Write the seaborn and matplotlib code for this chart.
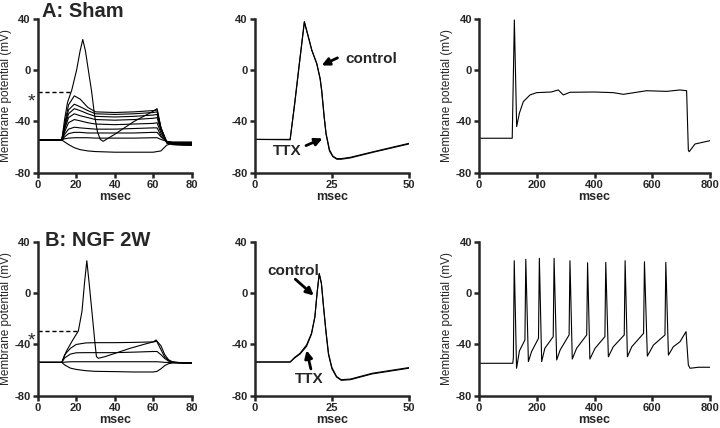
import matplotlib
matplotlib.use("Agg")
import matplotlib.pyplot as plt
import seaborn as sns

sns.set_style("ticks")
plt.rcParams['font.family'] = ['Liberation Sans', 'DejaVu Sans']

# ---------- A: Sham ----------
# step family (msec, mV)
sham_step_t = [0, 12.5, 14, 16, 19, 22, 26, 30, 40, 50, 60, 62, 64, 67, 70, 75, 80]
sham_step_v = [
    [-54.5, -54.5, -56, -58, -60.5, -62, -63, -63.5, -64, -64, -64, -63.5, -63, -58.5, -57, -57, -57],
    [-54.5, -54.5, -53.5, -53, -52.7, -52.7, -52.7, -53, -53, -53, -52.7, -52.7, -54, -55.5, -56, -56, -56],
    [-54.5, -54.5, -52, -49.5, -48.5, -48.5, -49, -49, -49, -49, -48.5, -48.5, -52, -55.5, -56.5, -56.5, -56.5],
    [-54.5, -54.5, -50, -46, -44.5, -45, -45.5, -46, -46, -45.5, -45, -45, -51, -56, -57, -57, -57],
    [-54.5, -54.5, -48, -41, -38.5, -39.5, -41, -42, -42.5, -42, -41.5, -41, -49, -56, -57, -57.5, -57.5],
    [-54.5, -54.5, -46, -37, -34, -35.5, -37, -38.5, -39, -38.5, -37.5, -37, -47, -56, -57.5, -57.5, -58],
    [-54.5, -54.5, -45, -34, -30, -31.5, -34, -36, -36.5, -36, -35, -34.5, -46, -56, -57.5, -58, -58],
    [-54.5, -54.5, -43, -31, -26.5, -28.5, -31.5, -34, -34.5, -34, -33, -32.5, -45, -56, -58, -58, -58.5],
    [-54.5, -54.5, -42, -27, -20, -22.5, -29, -32.5, -33, -32.5, -31.5, -31, -45, -56, -58, -58.5, -58.5],
]
sham_ap_t = [0, 12.5, 14, 15.5, 17.7, 20.2, 22, 23.4, 24.8, 26.3, 28, 29.5, 31, 32.5, 34, 40, 50, 60, 62, 64, 67, 70, 80]
sham_ap_v = [-54.5, -54.5, -38, -25, -15.4, 0.2, 15, 24, 15, 0, -16.7, -35, -48, -54, -55.5, -50, -40, -32, -30, -45, -57, -58, -58.5]
sham_thresh = -17.2
sham_thresh_t = 17.7
sham_star_v = -18.5

# single AP, control vs TTX
sham_single_t = [0, 11.5, 13, 14.5, 16.1, 17.2, 18.5, 20.1, 21.2, 21.7, 22.5, 23.1, 24.2, 25.3, 26.6, 28, 30.9, 38.4, 50]
sham_control_v = [-54, -54, -25, 6, 38, 28, 15.8, 5.4, -6.4, -15.5, -36, -49, -62, -67, -69, -69, -68, -63.6, -57]
sham_ttx_v = [-54, -54.3, -26, 5, 37.5, 27.5, 15.5, 5, -7, -16.5, -37, -50, -63, -67.5, -69.5, -69.5, -68.5, -64, -57.5]

# long step
sham_long_t = [0, 115, 122.4, 130.4, 139.7, 153.5, 176.6, 199.8, 250, 274.7, 292, 315, 400, 465, 500, 580, 650, 696, 719, 725, 728, 748, 800]
sham_long_v = [-53.1, -53.1, 39.2, -44, -33.6, -24.5, -19.3, -17.5, -17, -15.4, -19.3, -17.2, -17, -17.5, -18.8, -16, -16.5, -15.4, -16, -62.3, -63.6, -57.6, -55]

# ---------- B: NGF 2W ----------
ngf_step_t = [0, 12.5, 14, 17, 20, 25, 30, 40, 50, 60, 62, 64, 66, 68, 70, 75, 80]
ngf_step_v = [
    [-54, -54, -56, -58.5, -59.5, -60.5, -61, -61.2, -61.5, -61.5, -61, -59, -56.5, -55, -54.5, -54.5, -54.5],
    [-54, -54, -53.8, -53.5, -53.5, -53.5, -53.5, -53.5, -53.5, -53.5, -53.5, -53.7, -54, -54, -54, -54.5, -54.5],
    [-54, -54, -50.5, -47.5, -46.5, -46.4, -46.4, -46.4, -46, -45.5, -45.5, -48, -51, -53, -54, -54.5, -54.5],
    [-54, -54, -48, -43, -40, -38.8, -38.6, -38.6, -38.4, -38, -37.5, -41, -48, -52, -53.5, -54.5, -54.5],
]
ngf_ap_t = [0, 12.5, 15, 18, 21.1, 23, 24.3, 25.5, 26.7, 28, 29.8, 30.5, 31.5, 35, 40, 48, 55, 60, 61.5, 63, 66, 69, 72, 80]
ngf_ap_v = [-54, -54, -45, -37, -29.5, -14, 8, 25.4, 8, -12, -40, -49.5, -50.8, -49.5, -47, -43, -40, -38, -36.5, -41, -50, -53.5, -54, -54.5]
ngf_thresh = -29.5
ngf_thresh_t = 21.1
ngf_star_v = -30.8

ngf_single_t = [0, 11.5, 13, 14.7, 16.8, 18.4, 19.5, 20.2, 20.9, 21.6, 22.3, 23.1, 23.9, 25, 26.5, 28, 31, 38, 50]
ngf_control_v = [-53.7, -53.7, -50, -46.9, -40.4, -31.3, -18.3, 0, 15.5, 8, -10.5, -30, -47, -58, -65, -67.5, -67, -62.5, -58]
ngf_ttx_v = [-53.7, -53.7, -50.5, -47.5, -41.5, -32, -18.5, 0, 15, 7.5, -11, -31, -48, -59, -65.5, -68, -67.5, -63, -58.5]

# repetitive firing: per spike peak, trough and mid-ramp readings
ngf_peak_t = [122, 162, 209, 260, 315, 376, 439, 506, 573, 647]
ngf_peak_v = [25.4, 26.5, 27.3, 27.3, 25.4, 23.8, 24.1, 25.4, 24.6, 24.1]
ngf_pre_v = [-50, -36.5, -35.2, -33.9, -32.6, -32.6, -33.9, -32.6, -31.3, -32.6]
ngf_trough_t = [130, 171, 217, 269, 323, 384, 448, 514, 583, 656]
ngf_trough_v = [-58.6, -53.4, -53.4, -52.1, -51.4, -51.4, -49.6, -49.6, -49.1, -48.3]
ngf_mid_t = [140, 182, 228, 281, 338, 402, 465, 529, 604, 673]
ngf_mid_v = [-45, -45.6, -43, -44.3, -43, -43, -41.8, -41.8, -40.5, -41.8]
ngf_tail_t = [696, 717, 725, 731, 760, 800]
ngf_tail_v = [-37.9, -30, -56, -58.6, -57.8, -57.8]
ngf_base_v = -54.7

yticks = [-80, -40, 0, 40]
ylab = 'Membrane potential (mV)'


def trace(ax, t, v, **kw):
    kw.setdefault('color', 'black')
    kw.setdefault('lw', 0.8)
    sns.lineplot(x=t, y=v, ax=ax, sort=False, estimator=None, **kw)


def style(ax, xmax, xticks, ylabel=True, pad=5):
    ax.set_xlim(0, xmax)
    ax.set_ylim(-80, 40)
    ax.set_xticks(xticks, labels=[str(x) for x in xticks], fontsize=8, fontweight='bold')
    ax.set_yticks(yticks, labels=[str(y) for y in yticks], fontsize=8, fontweight='bold')
    sns.despine(ax=ax)
    for s in ['left', 'bottom']:
        ax.spines[s].set_linewidth(1.8)
    ax.tick_params(width=1.8, length=3.5, pad=1.5)
    ax.set_xlabel('msec', fontsize=9, fontweight='bold', labelpad=1)
    ax.set_ylabel(ylab if ylabel else '', fontsize=8.5, labelpad=pad)


def star(ax, v):
    # asterisk marking threshold, left of the axis
    ax.text(-3, v - 10, '*', ha='center', va='baseline', fontsize=14, clip_on=False)


fig = plt.figure(figsize=(7.2, 4.28), dpi=100)
cols = [(0.0524, 0.2139), (0.3535, 0.2150), (0.6653, 0.3208)]
rows = [0.5965, 0.0755]
h = 0.3591
axes = [[fig.add_axes([c[0], r, c[1], h]) for c in cols] for r in rows]

arrow = dict(arrowstyle='-|>', lw=2, color='black', mutation_scale=11)

# --- row A ---
ax = axes[0][0]
for v in sham_step_v:
    trace(ax, sham_step_t, v)
trace(ax, sham_ap_t, sham_ap_v)
trace(ax, [0, sham_thresh_t], [sham_thresh, sham_thresh], lw=1, linestyle=(0, (3, 2)))
star(ax, sham_star_v)
style(ax, 80, [0, 20, 40, 60, 80], pad=2)

ax = axes[0][1]
trace(ax, sham_single_t, sham_ttx_v)
trace(ax, sham_single_t, sham_control_v)
ax.annotate('', xy=(20.9, 2.8), xytext=(27.6, 10.6), arrowprops=arrow)
ax.text(29.2, 8.5, 'control', fontsize=11, fontweight='bold', ha='left', va='center')
ax.annotate('', xy=(22.8, -52.4), xytext=(15.8, -59.7), arrowprops=arrow)
ax.text(10.7, -62.9, 'TTX', fontsize=11, fontweight='bold', ha='center', va='center')
style(ax, 50, [0, 25, 50], ylabel=False)

ax = axes[0][2]
trace(ax, sham_long_t, sham_long_v)
style(ax, 800, [0, 200, 400, 600, 800], pad=2)

# --- row B ---
ax = axes[1][0]
for v in ngf_step_v:
    trace(ax, ngf_step_t, v)
trace(ax, ngf_ap_t, ngf_ap_v)
trace(ax, [0, ngf_thresh_t], [ngf_thresh, ngf_thresh], lw=1, linestyle=(0, (3, 2)))
star(ax, ngf_star_v)
style(ax, 80, [0, 20, 40, 60, 80], pad=2)

ax = axes[1][1]
trace(ax, ngf_single_t, ngf_ttx_v)
trace(ax, ngf_single_t, ngf_control_v)
ax.annotate('', xy=(19.8, -3.2), xytext=(12.5, 12.4), arrowprops=arrow)
ax.text(12.4, 17.6, 'control', fontsize=11, fontweight='bold', ha='center', va='center')
ax.annotate('', xy=(16.6, -42.5), xytext=(18.4, -61.2), arrowprops=arrow)
ax.text(17.6, -67.2, 'TTX', fontsize=11, fontweight='bold', ha='center', va='center')
style(ax, 50, [0, 25, 50], ylabel=False)

ax = axes[1][2]
train_t = [0, ngf_peak_t[0] - 5]
train_v = [ngf_base_v, ngf_base_v]
for i in range(len(ngf_peak_t)):
    train_t += [ngf_peak_t[i] - 3, ngf_peak_t[i], ngf_trough_t[i], ngf_mid_t[i]]
    train_v += [ngf_pre_v[i], ngf_peak_v[i], ngf_trough_v[i], ngf_mid_v[i]]
train_t += ngf_tail_t
train_v += ngf_tail_v
trace(ax, train_t, train_v)
style(ax, 800, [0, 200, 400, 600, 800], pad=2)

fig.text(41.7 / 720, 1 - 16.7 / 428, 'A: Sham', fontsize=14.5, fontweight='bold', va='baseline')
fig.text(45 / 720, 1 - 246 / 428, 'B: NGF 2W', fontsize=14.5, fontweight='bold', va='baseline')

fig.savefig('out.png', dpi=100)
